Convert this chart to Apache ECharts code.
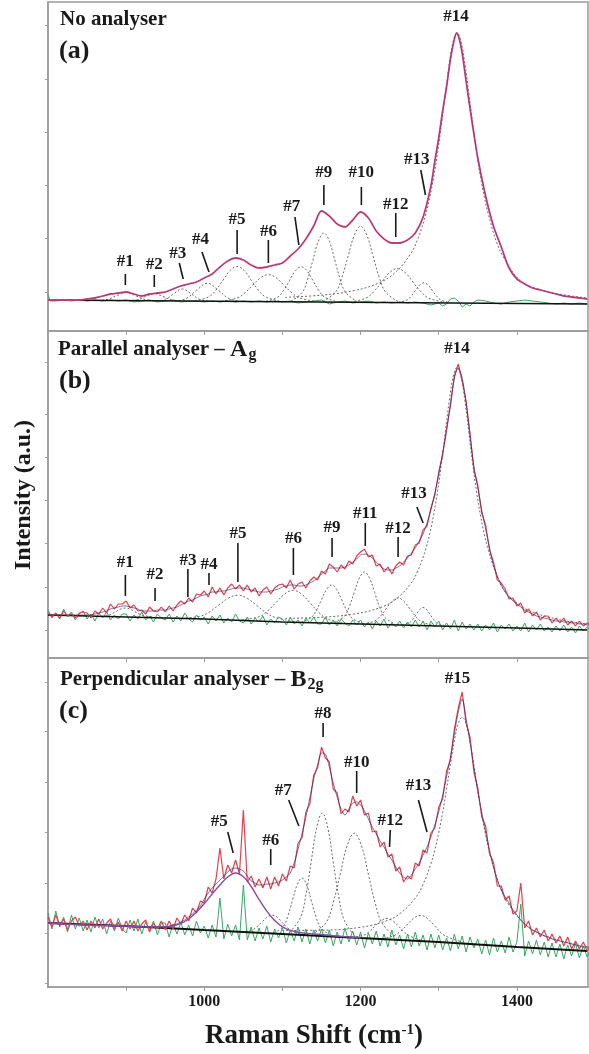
<!DOCTYPE html>
<html>
<head>
<meta charset="utf-8">
<script src="https://cdn.jsdelivr.net/npm/echarts@6/dist/echarts.min.js"></script>
<style>html,body{margin:0;padding:0;background:#fff}#c{width:589px;height:1054px}</style>
</head>
<body>
<div id="c"></div>
<script>
// ---------- axis ticks ----------
const xTickValues = [900, 1000, 1100, 1200, 1300, 1400];
const xLabelValues = [1000, 1200, 1400];
const aYTicks = [39, 93, 146, 199, 252, 306];
const bYTicks = [28, 71, 115, 158, 201, 244, 296];
const cYTicks = [4, 54, 104, 155, 205, 256, 305];

// ---------- shared 5 cm-1 grid for the noisy spectra ----------
const gridX5 = [
800,805,810,815,820,825,830,835,840,845,
850,855,860,865,870,875,880,885,890,895,
900,905,910,915,920,925,930,935,940,945,
950,955,960,965,970,975,980,985,990,995,
1000,1005,1010,1015,1020,1025,1030,1035,1040,1045,
1050,1055,1060,1065,1070,1075,1080,1085,1090,1095,
1100,1105,1110,1115,1120,1125,1130,1135,1140,1145,
1150,1155,1160,1165,1170,1175,1180,1185,1190,1195,
1200,1205,1210,1215,1220,1225,1230,1235,1240,1245,
1250,1255,1260,1265,1270,1275,1280,1285,1290,1295,
1300,1305,1310,1315,1320,1325,1330,1335,1340,1345,
1350,1355,1360,1365,1370,1375,1380,1385,1390,1395,
1400,1405,1410,1415,1420,1425,1430,1435,1440,1445,
1450,1455,1460,1465,1470,1475,1480,1485,1490,1495];

// ================= Panel (a): No analyser =================
const aMeasured = [[800,31],[810,31],[820,31],[830,31],[840,31],[850,32],[860,33],[870,35],[880,37],[890,38],[900,39],[910,37],[920,35],[930,37],[940,38],[950,39],[960,42],[970,45],[980,47],[990,49],[1000,53],[1010,57],[1020,64],[1030,70],[1040,73],[1050,71],[1060,66],[1070,63],[1080,64],[1090,66],[1100,68],[1110,75],[1120,82],[1130,92],[1140,105],[1150,120],[1160,115],[1170,107],[1180,104],[1190,111],[1200,119],[1210,113],[1220,100],[1230,92],[1240,88],[1250,88],[1260,91],[1270,98],[1280,114],[1290,145],[1295,170],[1300,193],[1305,220],[1310,244],[1315,272],[1320,292],[1323,298],[1326,293],[1330,278],[1335,250],[1340,223],[1345,197],[1350,173],[1360,135],[1370,105],[1380,84],[1390,63],[1400,52],[1410,47],[1420,43],[1430,41],[1440,39],[1450,37],[1460,35],[1470,34],[1480,33],[1490,32]];
const aResidual = [[800,36],[803,30],[810,30],[820,31],[830,30],[840,31],[850,30],[860,31],[870,30],[880,31],[890,30],[900,31],[910,29],[920,30],[930,31],[940,29],[950,30],[960,31],[970,29],[980,30],[990,30],[1000,29],[1010,30],[1020,29],[1030,30],[1040,29],[1050,30],[1060,29],[1070,30],[1080,29],[1090,30],[1100,29],[1110,30],[1120,28],[1130,29],[1140,30],[1150,31],[1160,27],[1170,29],[1180,30],[1190,28],[1200,29],[1210,30],[1220,28],[1230,29],[1240,28],[1250,29],[1260,28],[1270,29],[1280,28],[1290,26],[1300,28],[1305,25],[1310,27],[1315,32],[1320,33],[1325,30],[1330,24],[1335,27],[1340,25],[1345,29],[1350,31],[1360,30],[1370,28],[1380,27],[1390,29],[1400,30],[1410,31],[1420,30],[1430,29],[1440,28],[1450,27],[1460,28],[1470,27],[1480,28],[1490,27]];
const aBaseline = [[800,31],[1490,27]];
const aPeak1 = [[864,30.5],[876,31.5],[888,35.3],[900,38.4],[912,35.3],[924,31.5],[936,30.5]];
const aPeak2 = [[903,30.4],[914,31.2],[925,34.5],[936,37.3],[947,34.5],[958,31.2],[969,30.3]];
const aPeak3 = [[939,30.1],[950,31.6],[961,37.3],[972,42],[983,37.3],[994,31.6],[1005,30.1]];
const aPeak4 = [[962,30],[976,32.2],[990,40.7],[1004,47.8],[1018,40.7],[1032,32.2],[1046,30]];
const aPeak5 = [[988,30],[1006,34.3],[1015,41],[1024,50.8],[1033,60.5],[1042,64.6],[1051,60.5],[1060,50.8],[1069,41],[1078,34.3],[1096,30]];
const aPeak6 = [[1022,29.7],[1042,33],[1052,38.2],[1062,45.8],[1072,53.2],[1082,56.4],[1092,53.2],[1102,45.8],[1112,38.2],[1122,33],[1142,29.7]];
const aPeak7 = [[1079,29.6],[1094,33.9],[1101.5,40.6],[1109,50.4],[1116.5,60.1],[1124,64.2],[1131.5,60.1],[1139,50.4],[1146.5,40.6],[1154,33.9],[1169,29.6]];
const aPeak9 = [[1111,29.8],[1125,38.3],[1132,51.4],[1139,70.9],[1146,89.9],[1153,98],[1160,89.9],[1167,70.9],[1174,51.4],[1181,38.3],[1195,29.8]];
const aPeak10 = [[1152,29.5],[1168,39],[1176,53.4],[1184,74.8],[1192,95.7],[1200,104.7],[1208,95.7],[1216,74.8],[1224,53.4],[1232,39],[1248,29.5]];
const aPeak12 = [[1187,28.8],[1207,33],[1217,39.5],[1227,49],[1237,58.4],[1247,62.4],[1257,58.4],[1267,49],[1277,39.5],[1287,33],[1307,28.8]];
const aPeak13 = [[1248,28.4],[1259,30.9],[1264.5,34.7],[1270,40.3],[1275.5,45.8],[1281,48.2],[1286.5,45.8],[1292,40.3],[1297.5,34.7],[1303,30.9],[1314,28.4]];
const aPeak14 = [[1103.5,33.6],[1153.5,36.1],[1193.5,40.7],[1223.5,48.1],[1243.5,57.9],[1263.5,76.6],[1273.5,92.7],[1283.5,117],[1288.5,133.6],[1293.5,153.8],[1298.5,178.3],[1303.5,206.9],[1308.5,237.9],[1313.5,267.5],[1318.5,289.7],[1323.5,298],[1328.5,289.5],[1333.5,267.3],[1338.5,237.7],[1343.5,206.7],[1348.5,178.1],[1353.5,153.6],[1358.5,133.3],[1363.5,116.7],[1373.5,90],[1383.5,73],[1403.5,51],[1423.5,43],[1453.5,37],[1490,33]];
// [label, labelX, labelY, lineTopX, lineTopY, lineBottomX, lineBottomY]
const aNotes = [
 ['#1', 899, 69, 899, 57, 899, 46],
 ['#2', 936, 66, 936, 56, 936, 44],
 ['#3', 966, 77, 968, 68, 973, 52],
 ['#4', 995, 91, 997, 79, 1006, 59],
 ['#5', 1042, 111, 1042, 101, 1042, 77],
 ['#6', 1082, 99, 1082, 91, 1082, 68],
 ['#7', 1112, 124, 1116, 114, 1121, 86],
 ['#9', 1153, 158, 1153, 146, 1153, 126],
 ['#10', 1201, 158, 1201, 144, 1201, 126],
 ['#12', 1245, 126, 1245, 118, 1245, 94],
 ['#13', 1272, 171, 1277, 161, 1283, 136],
 ['#14', 1322, 314, null, null, null, null]
];

// ================= Panel (b): Parallel analyser – Ag =================
const bMeasured = [
46,41,45,40,47,42,44,40,45,46,
45,40,47,44,50,45,54,49,54,54,
57,50,53,47,48,44,51,47,46,51,
46,52,47,53,57,54,60,56,64,63,
67,61,71,64,70,63,70,74,69,73,
67,73,66,70,62,68,71,64,70,73,
74,70,78,69,74,76,70,77,81,78,
87,84,94,91,86,93,89,97,94,102,
106,109,101,103,92,94,86,91,84,92,
96,93,102,103,113,115,128,132,150,163,
186,203,230,252,282,294,277,257,225,188,
173,145,133,108,96,78,75,69,59,60,
52,55,45,49,42,46,38,42,42,35,
40,35,40,33,37,32,37,32,35,33];
const bFit = [
43,43,43,43,43,43,43,43,43,43,
43,43,44,45,46,47,49,50,51,52,
52,51,50,49,47,47,47,47,48,48,
48,49,50,51,53,55,57,58,60,62,
63,64,66,66,67,67,68,69,70,70,
70,69,68,67,66,66,66,67,68,69,
71,72,73,73,72,72,73,75,77,80,
84,87,90,90,90,90,91,93,96,99,
103,104,103,100,96,92,89,88,88,90,
92,96,100,105,110,117,124,135,148,165,
183,205,226,255,280,290,280,255,222,192,
170,148,129,110,93,82,73,66,61,57,
54,51,48,46,44,42,41,40,39,38,
37,37,36,36,35,35,34,34,33,33];
const bResidual = [
48,40,45,39,49,41,46,38,44,47,
39,44,37,45,40,46,38,43,39,44,
44,37,43,39,46,38,42,36,44,40,
38,44,36,42,37,45,39,36,43,38,
41,34,42,37,43,35,40,36,44,37,
35,41,34,40,36,42,33,39,35,41,
39,33,41,34,38,32,40,35,41,34,
34,41,33,38,32,39,35,32,38,33,
38,31,36,29,37,32,39,30,35,31,
37,30,36,31,38,31,37,28,37,31,
37,28,35,29,38,27,36,29,34,28,
34,27,33,28,35,26,33,29,34,27,
32,27,35,26,33,28,34,27,31,26,
32,27,33,26,31,25,32,27,31,26];
const bBaseline = [[800,43],[900,41],[1000,39],[1100,36],[1200,34],[1300,32],[1400,30],[1490,28]];
const bPeak1 = [[863,41.1],[875,42.2],[881,43.9],[887,46.5],[893,48.9],[899,50],[905,48.9],[911,46.5],[917,43.9],[923,42.2],[935,41.1]];
const bPeak5 = [[971,39.8],[995,41.8],[1007,46.3],[1019,53.2],[1031,59.9],[1043,62.8],[1055,59.6],[1067,52.6],[1079,45.3],[1091,40.5],[1115,36.4]];
const bPeak6 = [[1048,38.2],[1070,41.3],[1081,47],[1092,55.6],[1103,64.1],[1114,67.6],[1125,63.6],[1136,54.5],[1147,45.2],[1158,38.9],[1180,34.4]];
const bPeak9 = [[1124,35.8],[1137,40.6],[1143.5,47.7],[1150,58.3],[1156.5,68.6],[1163,73],[1169.5,68.4],[1176,57.9],[1182.5,47.1],[1189,39.9],[1202,34.8]];
const bPeak11 = [[1166,35.4],[1179,41.6],[1185.5,51.3],[1192,65.9],[1198.5,80],[1205,86],[1211.5,79.8],[1218,65.4],[1224.5,50.6],[1231,40.8],[1244,33.8]];
const bPeak12 = [[1203,33.8],[1218,37],[1225.5,42],[1233,49.5],[1240.5,56.9],[1248,60],[1255.5,56.7],[1263,49.2],[1270.5,41.6],[1278,36.3],[1293,32.6]];
const bPeak13 = [[1253,32.9],[1262,35.1],[1266.5,38.5],[1271,43.4],[1275.5,48.4],[1280,50.5],[1284.5,48.4],[1289,43.4],[1293.5,38.4],[1298,34.8],[1307,32.6]];
const bPeak14 = [[1103.5,39.6],[1153.5,40.9],[1193.5,44.2],[1223.5,50],[1243.5,57.8],[1263.5,73.7],[1273.5,87.7],[1283.5,109.3],[1288.5,124.4],[1293.5,143.3],[1298.5,166.6],[1303.5,194.7],[1308.5,226.2],[1313.5,257.4],[1318.5,281.5],[1323.5,290.6],[1328.5,281.3],[1333.5,257],[1338.5,225.6],[1343.5,193.9],[1348.5,165.6],[1353.5,142.1],[1358.5,123],[1363.5,107.7],[1373.5,84],[1383.5,68],[1403.5,53],[1423.5,45],[1453.5,38.5],[1490,34]];
const bNotes = [
 ['#1', 899, 95.5, 899, 83, 899, 62],
 ['#2', 937, 83, 937, 70, 937, 57],
 ['#3', 979, 97, 979, 89, 979, 61],
 ['#4', 1006, 93, 1006, 85, 1006, 73],
 ['#5', 1043, 124, 1043, 115, 1043, 76],
 ['#6', 1114, 119, 1114, 110, 1114, 83],
 ['#9', 1163.5, 130.5, 1163.5, 120, 1163.5, 101],
 ['#11', 1206, 144, 1206, 135, 1206, 112],
 ['#12', 1248, 129, 1248, 121, 1248, 101],
 ['#13', 1268.5, 164, 1272, 151, 1280, 135],
 ['#14', 1323.5, 309.5, null, null, null, null]
];

// ================= Panel (c): Perpendicular analyser – B2g =================
const cMeasured = [
70,60,72,61,68,57,66,70,61,66,
57,66,59,68,58,64,68,58,65,56,
66,58,66,56,63,67,55,64,58,66,
57,66,58,69,63,72,66,79,74,86,
84,100,94,108,139,108,122,114,127,113,
177,105,111,100,108,99,110,98,110,101,
113,106,121,119,144,149,175,183,212,219,
240,229,225,198,194,173,178,175,191,181,
187,172,174,155,156,140,145,130,133,116,
120,105,111,108,124,121,137,134,154,159,
180,188,216,227,258,279,295,264,250,215,
199,170,161,133,125,101,101,87,91,73,
76,104,59,66,52,59,50,57,46,53,
44,51,41,50,38,46,38,45,36,42];
const cFit = [
64,64,64,64,63,63,63,63,63,62,
62,62,62,62,62,62,61,61,61,61,
61,61,60,60,60,60,60,60,60,60,
60,61,62,63,65,67,70,73,77,81,
88,94,99,103,107,111,115,118,119,118,
116,111,106,104,102,102,103,103,104,105,
107,110,114,124,138,153,170,189,208,222,
234,233,220,204,190,178,172,178,184,185,
182,176,168,160,153,146,140,133,127,120,
114,110,108,112,118,124,132,140,150,162,
175,192,210,230,253,275,288,268,245,220,
195,175,155,137,120,107,97,90,84,77,
72,67,63,60,57,55,53,51,50,48,
47,46,45,44,43,42,41,40,40,39];
const cResidual = [
74,58,76,60,70,55,72,58,69,56,
67,55,70,59,68,53,66,56,69,58,
54,67,56,68,53,65,57,66,52,64,
64,50,63,53,65,52,62,51,66,54,
61,49,62,50,89,48,63,51,62,47,
102,47,60,46,59,48,61,45,58,49,
59,44,57,46,60,45,58,43,57,46,
58,44,57,41,55,43,59,45,56,42,
55,39,54,43,56,41,53,40,57,42,
52,38,53,40,55,41,52,37,53,39,
52,37,49,36,53,38,51,35,50,39,
48,33,47,32,49,35,46,34,50,35,
45,83,31,46,33,47,32,45,30,44,
30,43,28,42,31,44,29,41,30,40];
const cBaseline = [[800,64],[900,61],[1000,57],[1100,53],[1200,49],[1300,45],[1400,40],[1490,36]];
const cPeak5 = [[800,64],[850,62],[900,61],[930,60],[950,60.2],[960,61],[970,63.6],[980,68],[990,75],[1000,83.5],[1010,93],[1020,102],[1030,110],[1040,114],[1050,110.2],[1060,100.5],[1070,87.7],[1080,75.9],[1090,66.4],[1100,60.1],[1110,56.6],[1120,54.7],[1140,53],[1170,51],[1200,49]];
const cPeak6 = [[1048,55.2],[1061,57],[1067.5,60.3],[1074,65.1],[1080.5,69.9],[1087,71.8],[1093.5,69.6],[1100,64.3],[1106.5,59.2],[1113,55.5],[1126,52.3]];
const cPeak7 = [[1089,54],[1101,60.6],[1107,71.2],[1113,87],[1119,102.5],[1125,109],[1131,102],[1137,86.1],[1143,70],[1149,59.1],[1161,52.1]];
const cPeak8 = [[1109,54.8],[1123,69.3],[1130,92.2],[1137,126.5],[1144,159.9],[1151,174],[1158,159.3],[1165,124.9],[1172,90.4],[1179,67],[1193,50.5]];
const cPeak10 = [[1138,52.5],[1156,64.7],[1165,84.4],[1174,113.3],[1183,141.6],[1192,153.8],[1201,141.4],[1210,112.6],[1219,83],[1228,63.3],[1246,48.9]];
const cPeak12 = [[1189,49.6],[1204,51.9],[1211.5,55.6],[1219,61.4],[1226.5,66.4],[1234,68.6],[1241.5,66.1],[1249,60.5],[1256.5,54.4],[1264,50.6],[1279,46.3]];
const cPeak13 = [[1223,47.8],[1241,50.8],[1250,55],[1259,61.8],[1268,68.8],[1277,71.6],[1286,68.3],[1295,61],[1304,53.5],[1313,49.4],[1331,44.7]];
const cPeak15 = [[1100,56.5],[1160,57],[1200,59.7],[1230,65.3],[1250,73.2],[1270,89],[1280,102.7],[1290,123.3],[1295,137.2],[1300,154.2],[1305,174.5],[1310,197.8],[1315,222.7],[1320,246.2],[1325,263.5],[1330,269.8],[1335,263.1],[1340,245.4],[1345,221.5],[1350,196.2],[1355,172.5],[1360,151.8],[1365,134.4],[1370,120.1],[1380,97],[1390,82],[1410,63],[1430,53],[1460,45.5],[1490,40]];
const cNotes = [
 ['#5', 1019, 165, 1030, 155, 1037, 134],
 ['#6', 1085, 146, 1085, 138, 1085, 122],
 ['#7', 1101, 196, 1108, 187, 1121, 161],
 ['#8', 1152, 273, 1152, 264, 1152, 250],
 ['#10', 1195, 224.5, 1195, 216, 1195, 194],
 ['#12', 1238, 166, 1238, 157, 1237, 140],
 ['#13', 1274, 201, 1274, 187, 1285, 155],
 ['#15', 1324, 308, null, null, null, null]
];

// ---------- styling ----------
const SERIF = '"Liberation Serif", "Times New Roman", "DejaVu Serif", serif';
const INK = '#1a1a1a';
const FRAME = '#9c9c9c';
const RED = '#e6404c';
const GREEN = '#36a862';
const FIT = '#26266e';
const DASH = '#6a6a6a';
const PURPLE = '#8a4aa8';

const zip = (xs, ys) => xs.map((x, k) => [x, ys[k]]);

const panels = [
  {top: 2, height: 329, ymax: 329, ticks: aYTicks},
  {top: 331, height: 327, ymax: 327, ticks: bYTicks},
  {top: 658, height: 329, ymax: 329, ticks: cYTicks}
];

function line(i, data, color, width, extra) {
  return Object.assign({
    type: 'line', xAxisIndex: i, yAxisIndex: i, data: data,
    symbol: 'none', showSymbol: false, silent: true, animation: false,
    lineStyle: {color: color, width: width}
  }, extra || {});
}
function dashed(i, data) {
  return line(i, data, DASH, 1, {smooth: 0.4, lineStyle: {color: DASH, width: 1, type: [2, 2]}});
}
function notes(i, items) {
  return {
    type: 'custom', xAxisIndex: i, yAxisIndex: i, z: 20, silent: true, animation: false,
    data: items.map(d => [d[1], d[2]]),
    renderItem: function (params, api) {
      const d = items[params.dataIndex];
      const lp = api.coord([d[1], d[2]]);
      const children = [{
        type: 'text', x: lp[0], y: lp[1],
        style: {text: d[0], font: 'bold 17px ' + SERIF, fill: INK, align: 'center', verticalAlign: 'middle'}
      }];
      if (d[3] !== null) {
        const p1 = api.coord([d[3], d[4]]);
        const p2 = api.coord([d[5], d[6]]);
        children.push({type: 'line', shape: {x1: p1[0], y1: p1[1], x2: p2[0], y2: p2[1]},
          style: {stroke: INK, lineWidth: 1.6}});
      }
      return {type: 'group', children: children};
    }
  };
}

const series = [];
// panel a
[aPeak1, aPeak2, aPeak3, aPeak4, aPeak5, aPeak6, aPeak7, aPeak9, aPeak10, aPeak12, aPeak13, aPeak14]
  .forEach(p => series.push(dashed(0, p)));
series.push(line(0, aResidual, GREEN, 1));
series.push(line(0, aBaseline, '#111', 1.5));
series.push(line(0, aMeasured, '#d8467a', 1.8, {smooth: 0.3}));
series.push(line(0, aMeasured, FIT, 0.6, {smooth: 0.3, lineStyle: {color: FIT, width: 0.6, opacity: 0.5}}));
series.push(notes(0, aNotes));
// panel b
[bPeak1, bPeak5, bPeak6, bPeak9, bPeak11, bPeak12, bPeak13, bPeak14]
  .forEach(p => series.push(dashed(1, p)));
series.push(line(1, zip(gridX5, bResidual), GREEN, 1));
series.push(line(1, bBaseline, '#111', 1.6));
series.push(line(1, zip(gridX5, bMeasured), RED, 1.2, {lineStyle: {color: RED, width: 1.2}}));
series.push(line(1, zip(gridX5, bFit), FIT, 0.9, {smooth: 0.3, lineStyle: {color: FIT, width: 0.9, opacity: 0.7}}));
series.push(notes(1, bNotes));
// panel c
[cPeak6, cPeak7, cPeak8, cPeak10, cPeak12, cPeak13, cPeak15]
  .forEach(p => series.push(dashed(2, p)));
series.push(line(2, zip(gridX5, cResidual), GREEN, 1));
series.push(line(2, cBaseline, '#111', 2, {smooth: 0.3}));
series.push(line(2, zip(gridX5, cMeasured), RED, 1.2, {lineStyle: {color: RED, width: 1.2}}));
series.push(line(2, zip(gridX5, cFit), FIT, 0.9, {smooth: 0.3, lineStyle: {color: FIT, width: 0.9, opacity: 0.7}}));
series.push(line(2, cPeak5, PURPLE, 1.4, {smooth: 0.4}));
series.push(notes(2, cNotes));

const option = {
  animation: false,
  backgroundColor: '#fff',
  textStyle: {fontFamily: SERIF},
  grid: panels.map(p => ({left: 48, width: 540, top: p.top, height: p.height,
    show: true, borderColor: FRAME, borderWidth: 1.5, backgroundColor: 'transparent'})),
  xAxis: panels.map((p, i) => ({
    gridIndex: i, type: 'value', min: 800, max: 1491,
    axisLine: {show: true, onZero: false, lineStyle: {color: FRAME, width: 1.5}},
    axisTick: {show: true, inside: false, length: 4, customValues: xTickValues, lineStyle: {color: FRAME, width: 1}},
    axisLabel: {show: i === 2, customValues: xLabelValues, margin: 7,
      formatter: v => String(v),
      fontFamily: SERIF, fontWeight: 'bold', fontSize: 16, color: INK},
    splitLine: {show: false}
  })),
  yAxis: panels.map((p, i) => ({
    gridIndex: i, type: 'value', min: 0, max: p.ymax,
    axisLine: {show: true, onZero: false, lineStyle: {color: FRAME, width: 1.5}},
    axisTick: {show: true, inside: false, length: 3, customValues: p.ticks, lineStyle: {color: FRAME, width: 1}},
    axisLabel: {show: false},
    splitLine: {show: false}
  })),
  graphic: [
    {type: 'text', x: 60, y: 20, silent: true, style: {text: 'No analyser', font: 'bold 21px ' + SERIF, fill: INK, verticalAlign: 'middle'}},
    {type: 'text', x: 59, y: 51, silent: true, style: {text: '(a)', font: 'bold 26px ' + SERIF, fill: INK, verticalAlign: 'middle'}},
    {type: 'text', x: 58, y: 350, silent: true, style: {
      text: '{t|Parallel analyser – }{b|A}{s|g}', verticalAlign: 'middle', fill: INK,
      rich: {
        t: {font: 'bold 21px ' + SERIF, fill: INK},
        b: {font: 'bold 24px ' + SERIF, fill: INK},
        s: {font: 'bold 16px ' + SERIF, fill: INK, padding: [9, 0, 0, 1]}
      }}},
    {type: 'text', x: 59, y: 381, silent: true, style: {text: '(b)', font: 'bold 26px ' + SERIF, fill: INK, verticalAlign: 'middle'}},
    {type: 'text', x: 60, y: 680, silent: true, style: {
      text: '{t|Perpendicular analyser – }{b|B}{s|2g}', verticalAlign: 'middle', fill: INK,
      rich: {
        t: {font: 'bold 21px ' + SERIF, fill: INK},
        b: {font: 'bold 24px ' + SERIF, fill: INK},
        s: {font: 'bold 16px ' + SERIF, fill: INK, padding: [9, 0, 0, 1]}
      }}},
    {type: 'text', x: 59, y: 711, silent: true, style: {text: '(c)', font: 'bold 26px ' + SERIF, fill: INK, verticalAlign: 'middle'}},
    {type: 'text', x: 24, y: 495, rotation: Math.PI / 2, silent: true, style: {
      text: 'Intensity (a.u.)', font: 'bold 24px ' + SERIF, fill: INK, align: 'center', verticalAlign: 'middle'}},
    {type: 'text', x: 314, y: 1036, silent: true, style: {
      text: '{t|Raman Shift (cm}{p|-1}{t|)}', align: 'center', verticalAlign: 'middle', fill: INK,
      rich: {
        t: {font: 'bold 27px ' + SERIF, fill: INK},
        p: {font: 'bold 15px ' + SERIF, fill: INK, padding: [0, 0, 12, 0]}
      }}}
  ],
  series: series
};

const chart = echarts.init(document.getElementById('c'), null, {renderer: 'canvas', width: 589, height: 1054});
chart.setOption(option);
</script>
</body>
</html>
